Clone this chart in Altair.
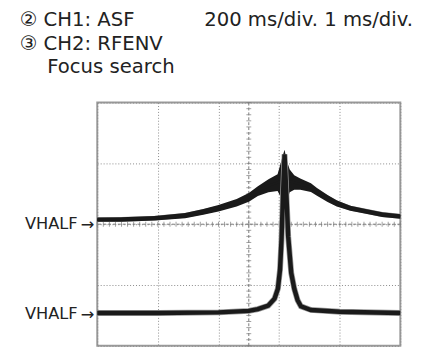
import altair as alt
import pandas as pd

# ---- text ----
header_lines = ["② CH1: ASF", "③ CH2: RFENV", "Focus search"]
scale_text = ["200 ms/div. 1 ms/div."]
ref_label = "VHALF"
ref_arrow = "→"
ref_levels = [4.0, 1.05]

# ---- grid (divisions) ----
x_divs = list(range(0, 11))
y_divs = list(range(0, 9))

# ---- CH1: ASF trace (envelope, in divisions) ----
t1_x = [0, 0.8, 1.9, 2.9, 3.5, 4.0, 4.6, 5.0, 5.3, 5.65, 5.95, 6.05, 6.12, 6.18,
        6.25, 6.35, 6.5, 6.7, 7.05, 7.25, 7.6, 7.9, 8.35, 8.9, 9.4, 10]
t1_mid = [4.15, 4.16, 4.20, 4.29, 4.41, 4.53, 4.71, 4.89, 5.09, 5.27, 5.37, 5.41, 5.43, 5.44,
          5.43, 5.41, 5.37, 5.32, 5.21, 5.07, 4.85, 4.69, 4.53, 4.42, 4.32, 4.26]
t1_upper = [4.22, 4.23, 4.27, 4.37, 4.50, 4.63, 4.83, 5.03, 5.25, 5.48, 5.64, 6.00, 6.25, 6.45,
            6.10, 5.80, 5.61, 5.50, 5.35, 5.19, 4.96, 4.79, 4.61, 4.49, 4.39, 4.33]
t1_lower = [4.08, 4.08, 4.12, 4.20, 4.31, 4.42, 4.58, 4.74, 4.93, 5.05, 5.09, 4.90, 4.65, 4.55,
            4.75, 5.05, 5.13, 5.13, 5.06, 4.94, 4.73, 4.58, 4.44, 4.34, 4.24, 4.18]

# ---- CH2: RFENV trace ----
t2_x = [0, 2.0, 4.0, 5.0, 5.3, 5.64, 5.85, 5.96, 6.03, 6.08, 6.13, 6.18, 6.24, 6.30,
        6.40, 6.50, 6.61, 6.72, 7.05, 8.0, 10]
t2_y = [1.08, 1.08, 1.10, 1.15, 1.21, 1.32, 1.55, 1.88, 2.5, 3.5, 5.0, 6.3, 5.0, 3.6,
        2.4, 1.88, 1.50, 1.30, 1.18, 1.12, 1.08]

# center graticule minor ticks (every 0.2 div)
minor_x = [round(i * 0.2, 2) for i in range(51)]
minor_y = [round(i * 0.2, 2) for i in range(41)]

t1 = pd.DataFrame({"x": t1_x, "mid": t1_mid, "up": t1_upper, "lo": t1_lower})
t2 = pd.DataFrame({"x": t2_x, "y": t2_y})

xs = alt.Scale(domain=[0, 10], nice=False, zero=False)
ys = alt.Scale(domain=[0, 8], nice=False, zero=False)
xax = alt.Axis(values=x_divs, grid=True, gridDash=[1, 2], gridColor="#8a8a8a", gridWidth=1,
               labels=False, ticks=False, domain=False, title=None)
yax = alt.Axis(values=y_divs, grid=True, gridDash=[1, 2], gridColor="#8a8a8a", gridWidth=1,
               labels=False, ticks=False, domain=False, title=None)

grid = alt.Chart(pd.DataFrame({"x": [0], "y": [0]})).mark_point(opacity=0).encode(
    x=alt.X("x:Q", scale=xs, axis=xax), y=alt.Y("y:Q", scale=ys, axis=yax))

cx = alt.Chart(pd.DataFrame({"x": [5]})).mark_rule(color="#7a7a7a", strokeDash=[3, 2], strokeWidth=1).encode(
    x=alt.X("x:Q", scale=xs))
cy = alt.Chart(pd.DataFrame({"y": [4]})).mark_rule(color="#7a7a7a", strokeDash=[3, 2], strokeWidth=1).encode(
    y=alt.Y("y:Q", scale=ys))
tick_h = alt.Chart(pd.DataFrame({"x": minor_x, "y": [4] * len(minor_x)})).mark_tick(
    orient="vertical", size=5, thickness=1, color="#7a7a7a").encode(
    x=alt.X("x:Q", scale=xs), y=alt.Y("y:Q", scale=ys))
tick_v = alt.Chart(pd.DataFrame({"y": minor_y, "x": [5] * len(minor_y)})).mark_tick(
    orient="horizontal", size=5, thickness=1, color="#7a7a7a").encode(
    x=alt.X("x:Q", scale=xs), y=alt.Y("y:Q", scale=ys))

t1_halo = alt.Chart(t1).mark_line(color="#9a9a9a", strokeWidth=5).encode(
    x=alt.X("x:Q", scale=xs), y=alt.Y("mid:Q", scale=ys))
t1_band = alt.Chart(t1).mark_area(color="#1a1a1a", opacity=1).encode(
    x=alt.X("x:Q", scale=xs), y=alt.Y("lo:Q", scale=ys), y2="up:Q")
t1_line = alt.Chart(t1).mark_line(color="#1a1a1a", strokeWidth=2.5).encode(
    x=alt.X("x:Q", scale=xs), y=alt.Y("mid:Q", scale=ys))

t2_halo = alt.Chart(t2).mark_line(color="#9a9a9a", strokeWidth=6).encode(
    x=alt.X("x:Q", scale=xs), y=alt.Y("y:Q", scale=ys))
t2_line = alt.Chart(t2).mark_line(color="#1a1a1a", strokeWidth=4.5).encode(
    x=alt.X("x:Q", scale=xs), y=alt.Y("y:Q", scale=ys))

font = "DejaVu Sans"
tcol = "#222222"

def label(txt, x, y, size, align="left"):
    return alt.Chart(pd.DataFrame({"t": [txt]})).mark_text(
        font=font, fontSize=size, color=tcol, align=align, baseline="middle").encode(
        text="t:N", x=alt.value(x), y=alt.value(y))

h1 = label(header_lines[0], -79, -84, 20)
h2 = label(header_lines[1], -79, -60, 20)
h3 = label(header_lines[2], -51, -36, 20)
h4 = label(scale_text[0], 322, -84, 20, align="right")

vdf = pd.DataFrame({"y": ref_levels, "t": [ref_label] * len(ref_levels), "a": [ref_arrow] * len(ref_levels)})
vh = alt.Chart(vdf).mark_text(
    font=font, fontSize=16.5, color=tcol, align="right", baseline="middle", dx=-20).encode(
    x=alt.value(0), y=alt.Y("y:Q", scale=ys), text="t:N")
va = alt.Chart(vdf).mark_text(
    font=font, fontSize=16.5, color=tcol, align="right", baseline="middle", dx=-3, dy=1).encode(
    x=alt.value(0), y=alt.Y("y:Q", scale=ys), text="a:N")

chart = alt.layer(
    grid, cx, cy, tick_h, tick_v,
    t1_halo, t1_band, t1_line, t2_halo, t2_line,
    h1, h2, h3, h4, vh, va
).properties(
    width=309, height=248,
    autosize=alt.AutoSizeParams(type="none"),
    padding={"left": 91, "top": 93, "right": 17, "bottom": 11},
    background="white",
).configure_view(stroke="#9a9a9a", strokeWidth=2)

chart.save("out.html", embed_options={"renderer": "svg", "actions": False})
